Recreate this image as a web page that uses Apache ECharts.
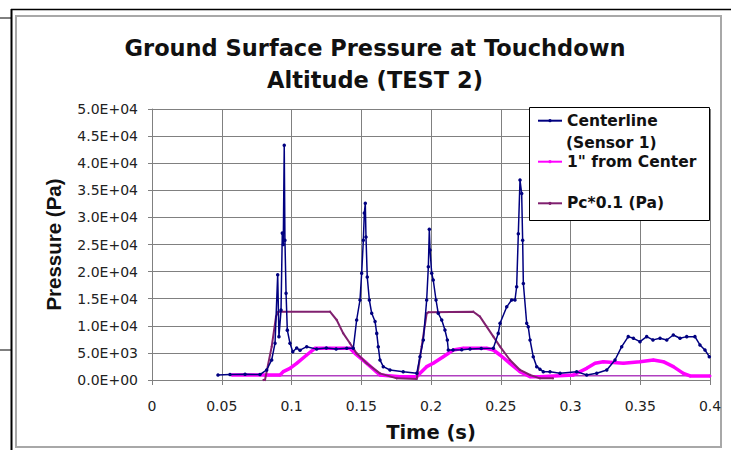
<!DOCTYPE html>
<html>
<head>
<meta charset="utf-8">
<script src="https://cdn.jsdelivr.net/npm/echarts@6/dist/echarts.min.js"></script>
<style>html,body{margin:0;padding:0;background:#fff;}#c{width:731px;height:450px;}</style>
</head>
<body>
<div id="c"></div>
<script>
// ---- data (time in s, pressure in Pa) ----
const centerT = [0.0473,0.0559,0.0667,0.0774,0.0822,0.0858,0.0882,0.0901,0.0910,0.0925,0.0934,0.0941,0.0948,0.0953,0.0961,0.0970,0.0989,0.1009,0.1037,0.1061,0.1109,0.1180,0.1250,0.1320,0.1396,0.1443,0.1467,0.1491,0.1503,0.1515,0.1522,0.1529,0.1534,0.1543,0.1558,0.1575,0.1599,0.1611,0.1622,0.1634,0.1658,0.1706,0.1801,0.1898,0.1921,0.1945,0.1969,0.1981,0.1988,0.1993,0.2005,0.2016,0.2036,0.2052,0.2077,0.2100,0.2117,0.2124,0.2158,0.2220,0.2280,0.2360,0.2447,0.2482,0.2495,0.2543,0.2578,0.2602,0.2614,0.2626,0.2638,0.2650,0.2657,0.2662,0.2686,0.2697,0.2710,0.2733,0.2758,0.2781,0.2805,0.2853,0.2925,0.3044,0.3116,0.3188,0.3260,0.3319,0.3367,0.3414,0.3451,0.3498,0.3546,0.3591,0.3642,0.3690,0.3737,0.3785,0.3833,0.3892,0.3928,0.3964,0.3995];
const centerP = [920,1000,1050,1000,1850,3700,6800,19400,8000,12900,27100,25000,43300,25800,16000,9200,6800,5200,5900,5500,6150,5700,5900,5700,5850,5850,11070,14760,19700,25800,30800,32600,26400,19000,14760,12300,10800,8600,6150,3700,2460,1850,1540,1230,4300,7380,14760,20900,27800,24000,19700,18450,14760,12300,11070,9225,7380,5535,5535,5600,5700,5800,5850,8600,10460,13500,14760,14760,17200,27000,36900,34400,25800,17800,10460,9840,7380,4300,2460,2000,1540,1540,1230,1540,920,1230,1850,3690,6150,8000,7690,7070,8000,7400,7690,7380,8300,7700,8000,8000,6460,5535,4300];

const inchT = [0.0571,0.0918,0.0941,0.0989,0.1037,0.1109,0.1168,0.1276,0.1419,0.1455,0.1530,0.1634,0.1778,0.1898,0.1921,0.1969,0.2016,0.2088,0.2160,0.2232,0.2399,0.2447,0.2495,0.2566,0.2638,0.2710,0.2781,0.3020,0.3116,0.3176,0.3235,0.3379,0.3498,0.3594,0.3665,0.3737,0.3809,0.3857,0.4000];
const inchP = [920,920,1540,2150,3080,4610,5850,5850,5850,4920,3300,920,615,615,1230,2460,3080,4300,5535,5850,5850,5535,4610,3080,1540,615,615,920,2150,3080,3380,3080,3380,3690,3380,2460,1230,740,740];

const pcT = [0.0798,0.0810,0.0858,0.0889,0.0905,0.1276,0.1324,0.1371,0.1419,0.1467,0.1539,0.1634,0.1754,0.1898,0.1933,0.1969,0.1981,0.2303,0.2351,0.2399,0.2447,0.2495,0.2566,0.2638,0.2710,0.2781,0.2875];
const pcP = [0,0,6150,11700,12600,12600,11070,8600,6770,4920,3080,1230,300,200,6150,12300,12500,12600,11700,9840,8000,6150,3690,1850,920,300,300];

const baseT = [0.0800,0.4000];
const baseP = [800,800];

const xTicks = [0,0.05,0.1,0.15,0.2,0.25,0.3,0.35,0.4];
const names = ['Centerline (Sensor 1)', '1" from Center', 'Pc*0.1 (Pa)'];

const zip = (t, p) => t.map((v, i) => [v, p[i]]);
function sci(v){
  if (v === 0) return '0.0E+00';
  let e = Math.floor(Math.log10(v) + 1e-9);
  let m = v / Math.pow(10, e);
  return m.toFixed(1) + 'E+' + String(e).padStart(2, '0');
}

const chart = echarts.init(document.getElementById('c'), null, {renderer: 'svg'});
const FONT = 'DejaVu Sans';
const legendBase = {orient:'vertical', padding:0, itemWidth:24, itemHeight:4, itemGap:0, z:20,
  textStyle:{fontFamily:FONT, fontWeight:'bold', fontSize:15.5, color:'#111', lineHeight:18}};

chart.setOption({
  animation:false,
  backgroundColor:'#fff',
  grid:{left:152, right:21, top:109, bottom:70, containLabel:false},
  xAxis:{type:'value', min:0, max:0.4, interval:0.05,
    name:'Time (s)', nameLocation:'middle', nameGap:42,
    nameTextStyle:{fontFamily:FONT, fontWeight:'bold', fontSize:19.5, color:'#111'},
    axisLine:{show:true, lineStyle:{color:'#808080', width:1}},
    axisTick:{show:true, length:5, lineStyle:{color:'#808080'}},
    axisLabel:{fontFamily:FONT, fontSize:14, color:'#222', margin:19,
      formatter: v => { const k = xTicks.find(t => Math.abs(t - v) < 1e-9); return String(k !== undefined ? k : +v.toFixed(2)); }},
    splitLine:{show:true, lineStyle:{color:'#808080', width:1}}},
  yAxis:{type:'value', min:0, max:50000, interval:5000,
    name:'Pressure (Pa)', nameLocation:'middle', nameGap:88, nameRotate:90,
    nameTextStyle:{fontFamily:'Liberation Sans', fontWeight:'bold', fontSize:20.5, color:'#111'},
    axisLine:{show:true, lineStyle:{color:'#808080', width:1}},
    axisTick:{show:true, length:4, lineStyle:{color:'#808080'}},
    axisLabel:{fontFamily:FONT, fontSize:14, color:'#222', margin:14, formatter: sci},
    splitLine:{show:true, lineStyle:{color:'#808080', width:1}}},
  legend:[
    Object.assign({}, legendBase, {data:[names[0]], left:537, top:111.7, formatter:()=> 'Centerline'}),
    Object.assign({}, legendBase, {data:[names[1]], left:537, top:152.7}),
    Object.assign({}, legendBase, {data:[names[2]], left:537, top:194.3})
  ],
  graphic:[
    {type:'line', shape:{x1:11.5,y1:9,x2:11.5,y2:450}, style:{stroke:'#000', lineWidth:2}, silent:true},
    {type:'line', shape:{x1:11,y1:9.5,x2:731,y2:9.5}, style:{stroke:'#000', lineWidth:1.5}, silent:true},
    {type:'line', shape:{x1:0,y1:18,x2:11,y2:18}, style:{stroke:'#000', lineWidth:1}, silent:true},
    {type:'line', shape:{x1:0,y1:350,x2:11,y2:350}, style:{stroke:'#000', lineWidth:1}, silent:true},
    {type:'rect', shape:{x:16,y:16,width:705,height:431}, style:{stroke:'#a8a8a8', fill:'none', lineWidth:2}, silent:true, z:-1},
    {type:'text', x:375, y:48, style:{text:'Ground Surface Pressure at Touchdown', font:'bold 22.5px "DejaVu Sans"', fill:'#111', textAlign:'center', textVerticalAlign:'middle'}},
    {type:'text', x:375, y:80, style:{text:'Altitude (TEST 2)', font:'bold 22.5px "DejaVu Sans"', fill:'#111', textAlign:'center', textVerticalAlign:'middle'}},
    {type:'rect', shape:{x:529.5,y:107.5,width:180,height:113}, style:{stroke:'#000', fill:'#fff', lineWidth:1}, z:5, silent:true},
    {type:'text', x:566, y:142.7, z:6, style:{text:'(Sensor 1)', font:'bold 15.5px "DejaVu Sans"', fill:'#111', textAlign:'left', textVerticalAlign:'middle'}}
  ],
  series:[
    {name:'_base', type:'line', data:zip(baseT, baseP), symbol:'none', lineStyle:{color:'#b040c0', width:1.5}, silent:true, z:1},
    {name:names[1], type:'line', data:zip(inchT, inchP), symbol:'circle', symbolSize:3,
      itemStyle:{color:'#ff00ff'}, lineStyle:{color:'#ff00ff', width:3.5}, z:2},
    {name:names[2], type:'line', data:zip(pcT, pcP), symbol:'circle', symbolSize:2, showSymbol:true,
      itemStyle:{color:'#80206f'}, lineStyle:{color:'#80206f', width:2}, z:3},
    {name:names[0], type:'line', data:zip(centerT, centerP), symbol:'circle', symbolSize:3.5,
      itemStyle:{color:'#000080'}, lineStyle:{color:'#000080', width:1.5}, z:4}
  ]
});
</script>
</body>
</html>
